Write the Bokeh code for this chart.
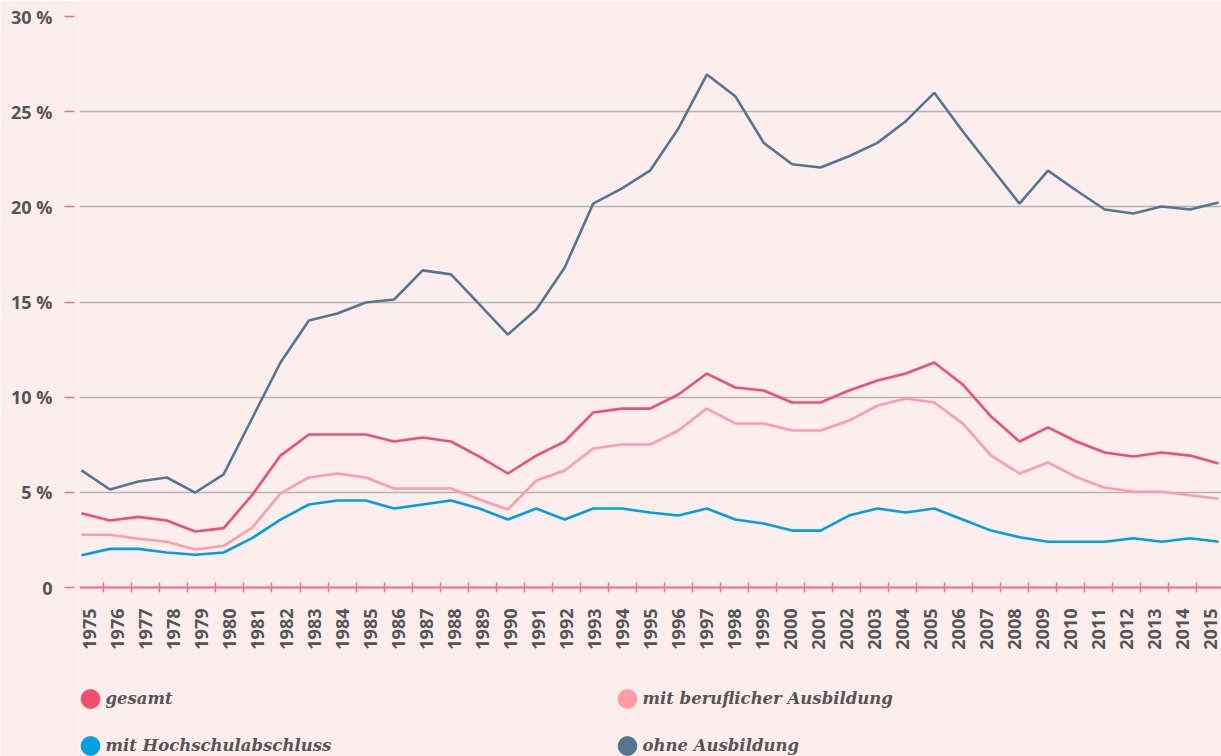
import math
from bokeh.plotting import figure
from bokeh.models import (Range1d, FixedTicker, CustomJSTickFormatter, LinearAxis,
                          Legend, LegendItem)
from bokeh.embed import file_html
from bokeh.resources import INLINE

years = list(range(1975, 2016))

gesamt = [3.9, 3.52, 3.71, 3.52, 2.94, 3.12, 4.85, 6.93, 8.04, 8.04,
          8.04, 7.67, 7.88, 7.67, 6.88, 5.99, 6.93, 7.67, 9.19, 9.4,
          9.4, 10.14, 11.24, 10.51, 10.35, 9.72, 9.72, 10.35, 10.88, 11.24,
          11.82, 10.67, 8.98, 7.67, 8.41, 7.67, 7.09, 6.88, 7.09, 6.93, 6.51]

beruflich = [2.77, 2.77, 2.56, 2.4, 2.0, 2.19, 3.14, 4.94, 5.78, 5.99,
             5.78, 5.2, 5.2, 5.2, 4.62, 4.1, 5.62, 6.15, 7.3, 7.51,
             7.51, 8.25, 9.4, 8.62, 8.62, 8.25, 8.25, 8.77, 9.56, 9.93,
             9.72, 8.62, 6.93, 5.99, 6.57, 5.8, 5.24, 5.04, 5.03, 4.85, 4.66]

hochschule = [1.7, 2.03, 2.03, 1.84, 1.72, 1.84, 2.59, 3.57, 4.36, 4.57,
              4.57, 4.15, 4.36, 4.57, 4.15, 3.57, 4.15, 3.57, 4.15, 4.15,
              3.94, 3.78, 4.15, 3.57, 3.36, 2.99, 2.99, 3.78, 4.15, 3.94,
              4.15, 3.57, 2.99, 2.64, 2.4, 2.4, 2.4, 2.59, 2.4, 2.59, 2.4]

ohne = [6.15, 5.15, 5.57, 5.78, 4.99, 5.94, 8.88, 11.82, 14.03, 14.4,
        14.97, 15.13, 16.66, 16.45, 14.87, 13.29, 14.61, 16.81, 20.17, 20.96,
        21.9, 24.12, 26.95, 25.81, 23.36, 22.24, 22.07, 22.66, 23.36, 24.5,
        25.99, 23.97, 22.07, 20.17, 21.9, 20.86, 19.86, 19.65, 20.02, 19.86, 20.23]

y_ticks = [0, 5, 10, 15, 20, 25, 30]

series_names = ["gesamt", "mit beruflicher Ausbildung", "mit Hochschulabschluss", "ohne Ausbildung"]
series_values = [gesamt, beruflich, hochschule, ohne]
series_colors = ["#f0506e", "#ff9ca4", "#009fe3", "#557691"]
legend_order = [0, 2, 1, 3]   # column-major fill -> rows: gesamt | beruflich, hochschule | ohne

BG = "#fdeeee"
TEXT = "#555555"
PINK = "#f07088"

# frame reaches the bottom of the page so that the legend below the axis is drawn
p = figure(width=1221, height=756, output_backend="svg", toolbar_location=None,
           x_range=Range1d(1974.93, 2015.105), y_range=Range1d(-8.879, 30),
           frame_width=1142, frame_height=740,
           min_border_left=79, min_border_right=0, min_border_top=16, min_border_bottom=0,
           x_axis_location=None, y_axis_location=None)
p.background_fill_color = BG
p.border_fill_color = BG
p.outline_line_color = None
p.xgrid.visible = False
p.ygrid.ticker = FixedTicker(ticks=y_ticks)
p.ygrid.grid_line_color = "#b4b4b4"
p.ygrid.grid_line_width = 1.5

# band-like range for the year labels
p.extra_x_ranges = {"labels": Range1d(1974.6325, 2015.375)}

# y axis
yax = LinearAxis(ticker=FixedTicker(ticks=y_ticks),
                 formatter=CustomJSTickFormatter(code="return tick == 0 ? '0' : tick + ' %';"))
yax.axis_line_color = None
yax.major_tick_in = -5
yax.major_tick_out = 15
yax.major_tick_line_color = PINK
yax.major_tick_line_width = 1.5
yax.minor_tick_line_color = None
yax.major_label_standoff = 12
yax.major_label_text_font = "Open Sans"
yax.major_label_text_font_style = "bold"
yax.major_label_text_font_size = "18px"
yax.major_label_text_color = TEXT
p.add_layout(yax, "left")

# x axis at y = 0: year labels in bands, tick marks on band boundaries
xax = LinearAxis(x_range_name="labels", fixed_location=0,
                 ticker=FixedTicker(ticks=years, minor_ticks=[y + 0.5 for y in years[:-1]]),
                 formatter=CustomJSTickFormatter(code="return Math.round(tick).toString();"))
xax.axis_line_color = PINK
xax.axis_line_width = 2
xax.major_tick_line_color = None
xax.major_tick_in = 0
xax.major_tick_out = 0
xax.minor_tick_line_color = PINK
xax.minor_tick_line_width = 1.5
xax.minor_tick_in = 5
xax.minor_tick_out = 5
xax.major_label_orientation = math.pi / 2
xax.major_label_standoff = 16
xax.major_label_text_font = "Open Sans"
xax.major_label_text_font_style = "bold"
xax.major_label_text_font_size = "18px"
xax.major_label_text_color = TEXT
p.add_layout(xax, "below")

# lines
for name, vals, col in zip(series_names, series_values, series_colors):
    p.line(years, vals, line_color=col, line_width=2.6)

# legend: one legend draws the dots, a second one the labels next to them
nan = float("nan")
dot_items, text_items = [], []
for name, col in zip(series_names, series_colors):
    dot = p.scatter(x=[nan], y=[nan], marker="circle", size=20, fill_color=col, line_color=col)
    dot_items.append(LegendItem(label=" ", renderers=[dot]))
    empty = p.line(x=[], y=[], line_color=col)
    text_items.append(LegendItem(label=name, renderers=[empty]))

common = dict(ncols=2, spacing=0, padding=0, margin=0, glyph_height=47,
              border_line_color=None, background_fill_alpha=0,
              label_text_font="DejaVu Serif", label_text_font_style="bold italic",
              label_text_font_size="16.5px", label_text_color=TEXT)

dot_legend = Legend(items=[dot_items[i] for i in legend_order], location=(-14, -12.5),
                    glyph_width=50, label_standoff=0, label_width=487, **common)
text_legend = Legend(items=[text_items[i] for i in legend_order], location=(10.5, -12.5),
                     glyph_width=1, label_standoff=15, label_width=521, **common)
p.add_layout(dot_legend, "center")
p.add_layout(text_legend, "center")

html = file_html(p, INLINE)
html = html.replace("<body>", '<body style="background:%s">' % BG, 1)
open("out.html", "w").write(html)
